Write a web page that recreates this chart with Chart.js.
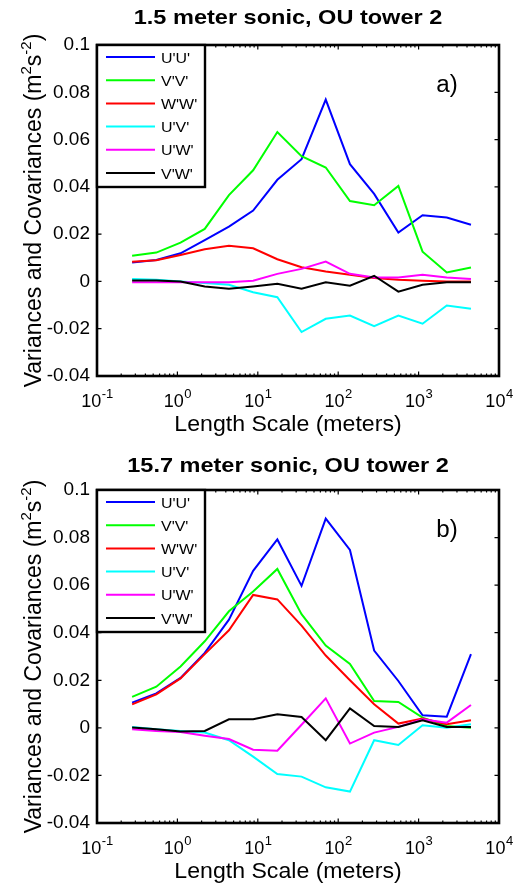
<!DOCTYPE html>
<html>
<head>
<meta charset="utf-8">
<script src="https://cdn.jsdelivr.net/npm/chart.js@4.4.1/dist/chart.umd.min.js"></script>
<style>
  html, body { margin: 0; padding: 0; background: #fff; }
  body { width: 514px; height: 884px; position: relative; overflow: hidden; }
  .panel { position: absolute; left: 0; width: 514px; height: 442px; }
  canvas { display: block; }
</style>
</head>
<body>
<div class="panel" style="top:0"><canvas id="c1" width="514" height="442"></canvas></div>
<div class="panel" style="top:442px"><canvas id="c2" width="514" height="442"></canvas></div>
<script>
// ---------- data ----------
const lengthScale = [0.2734, 0.5469, 1.094, 2.188, 4.375, 8.75, 17.5, 35, 70, 140, 280, 560, 1120, 2240, 4480];
const seriesLabels = ["U'U'", "V'V'", "W'W'", "U'V'", "U'W'", "V'W'"];
const seriesColors = ["#0000ff", "#00ff00", "#ff0000", "#00ffff", "#ff00ff", "#000000"];

// panel a) 1.5 m sonic
const a_UU = [0.0080, 0.0091, 0.0119, 0.0175, 0.0232, 0.0300, 0.0430, 0.0517, 0.0769, 0.0496, 0.0370, 0.0207, 0.0280, 0.0270, 0.0240];
const a_VV = [0.0109, 0.0122, 0.0164, 0.0222, 0.0365, 0.0470, 0.0632, 0.0530, 0.0482, 0.0340, 0.0322, 0.0404, 0.0126, 0.0038, 0.0059];
const a_WW = [0.0083, 0.0090, 0.0112, 0.0136, 0.0151, 0.0140, 0.0094, 0.0060, 0.0042, 0.0028, 0.0014, 0.0007, 0.0003, 0.0000, 0.0000];
const a_UV = [0.0010, 0.0007, 0.0000, -0.0007, -0.0014, -0.0046, -0.0067, -0.0214, -0.0158, -0.0144, -0.0189, -0.0144, -0.0179, -0.0102, -0.0116];
const a_UW = [-0.0003, -0.0003, -0.0003, -0.0003, -0.0003, 0.0003, 0.0032, 0.0053, 0.0084, 0.0032, 0.0017, 0.0017, 0.0028, 0.0017, 0.0010];
const a_VW = [0.0004, 0.0004, 0.0000, -0.0021, -0.0031, -0.0021, -0.0010, -0.0031, -0.0004, -0.0018, 0.0024, -0.0043, -0.0014, -0.0003, -0.0003];

// panel b) 15.7 m sonic
const b_UU = [0.0106, 0.0145, 0.0210, 0.0315, 0.0455, 0.0660, 0.0792, 0.0597, 0.0880, 0.0748, 0.0325, 0.0197, 0.0053, 0.0047, 0.0310];
const b_VV = [0.0130, 0.0173, 0.0258, 0.0364, 0.0490, 0.0573, 0.0668, 0.0478, 0.0346, 0.0269, 0.0113, 0.0109, 0.0043, 0.0008, 0.0000];
const b_WW = [0.0099, 0.0141, 0.0208, 0.0310, 0.0410, 0.0559, 0.0540, 0.0430, 0.0304, 0.0200, 0.0099, 0.0018, 0.0039, 0.0015, 0.0032];
const b_UV = [0.0004, -0.0006, -0.0013, -0.0020, -0.0052, -0.0121, -0.0194, -0.0205, -0.0250, -0.0268, -0.0052, -0.0072, 0.0011, 0.0000, 0.0015];
const b_UW = [-0.0006, -0.0013, -0.0017, -0.0033, -0.0047, -0.0092, -0.0096, 0.0013, 0.0124, -0.0066, -0.0020, 0.0004, 0.0036, 0.0022, 0.0096];
const b_VW = [0.0001, -0.0006, -0.0015, -0.0013, 0.0036, 0.0036, 0.0057, 0.0046, -0.0052, 0.0082, 0.0008, 0.0004, 0.0032, 0.0004, 0.0004];

// ticks and text
const xTickValues = [0.1, 1, 10, 100, 1000, 10000];
const xTickBase = "10";
const xTickExps = ["-1", "0", "1", "2", "3", "4"];
const yTickValues = [-0.04, -0.02, 0, 0.02, 0.04, 0.06, 0.08, 0.1];
const yTickLabels = ["-0.04", "-0.02", "0", "0.02", "0.04", "0.06", "0.08", "0.1"];
const xAxisTitle = "Length Scale (meters)";
const yAxisTitleParts = ["Variances and Covariances (m", "2", "s", "-2", ")"];
const panelTitles = ["1.5 meter sonic, OU tower 2", "15.7 meter sonic, OU tower 2"];
const panelLetters = ["a)", "b)"];
const titleOffsets = [21, 18];

// ---------- drawing helpers ----------
const FONT = "'Liberation Sans', Arial, Helvetica, sans-serif";

function sText(ctx, txt, x, y, size, sx, align, bold) {
  ctx.save();
  ctx.font = (bold ? "bold " : "") + size + "px " + FONT;
  const w = ctx.measureText(txt).width * sx;
  const x0 = align === "center" ? x - w / 2 : (align === "right" ? x - w : x);
  ctx.translate(x0, y);
  ctx.scale(sx, 1);
  ctx.textAlign = "left";
  ctx.fillStyle = "#000";
  ctx.fillText(txt, 0, 0);
  ctx.restore();
  return w;
}
function measure(ctx, txt, size, sx, bold) {
  ctx.save();
  ctx.font = (bold ? "bold " : "") + size + "px " + FONT;
  const w = ctx.measureText(txt).width * sx;
  ctx.restore();
  return w;
}

function makeDecor(idx) {
  return {
    id: "decor" + idx,
    afterDraw(chart) {
      const ctx = chart.ctx;
      const {left, right, top, bottom} = chart.chartArea;
      const xs = chart.scales.x, ys = chart.scales.y;
      ctx.save();
      ctx.strokeStyle = "#000";
      ctx.fillStyle = "#000";
      ctx.textBaseline = "alphabetic";

      // tick marks (inward)
      ctx.lineWidth = 1.2;
      ctx.beginPath();
      for (let d = -1; d <= 4; d++) {
        const px = xs.getPixelForValue(Math.pow(10, d));
        ctx.moveTo(px, bottom); ctx.lineTo(px, bottom - 4.5);
        ctx.moveTo(px, top); ctx.lineTo(px, top + 4.5);
        if (d < 4) {
          for (let m = 2; m <= 9; m++) {
            const pm = xs.getPixelForValue(m * Math.pow(10, d));
            ctx.moveTo(pm, bottom); ctx.lineTo(pm, bottom - 2.5);
            ctx.moveTo(pm, top); ctx.lineTo(pm, top + 2.5);
          }
        }
      }
      yTickValues.forEach(v => {
        const py = ys.getPixelForValue(v);
        ctx.moveTo(left, py); ctx.lineTo(left + 4.5, py);
        ctx.moveTo(right, py); ctx.lineTo(right - 4.5, py);
      });
      ctx.stroke();

      // axes box
      ctx.lineWidth = 2.6;
      ctx.strokeRect(left, top, right - left, bottom - top);

      // legend
      const lw = 108, lh = 142;
      ctx.fillStyle = "#fff";
      ctx.fillRect(left, top, lw, lh);
      ctx.lineWidth = 2.4;
      ctx.strokeRect(left, top, lw, lh);
      chart.data.datasets.forEach((ds, i) => {
        const ry = top + 12 + i * 23.2;
        ctx.strokeStyle = ds.borderColor;
        ctx.lineWidth = 2;
        ctx.beginPath();
        ctx.moveTo(left + 9, ry); ctx.lineTo(left + 58, ry);
        ctx.stroke();
        sText(ctx, ds.label, left + 64, ry + 5.5, 14.5, 1.1, "left", false);
      });

      // panel letter
      sText(ctx, panelLetters[idx], right - 52, top + 47, 23, 1.05, "center", false);

      // title
      sText(ctx, panelTitles[idx], 288, top - titleOffsets[idx], 21, 1.12, "center", true);

      // x tick labels with superscript
      const baseY = bottom + 31;
      xTickValues.forEach((v, i) => {
        const px = xs.getPixelForValue(v);
        const wb = measure(ctx, xTickBase, 18, 1.0, false);
        const we = measure(ctx, xTickExps[i], 13, 1.0, false);
        const x0 = px - (wb + we) / 2;
        sText(ctx, xTickBase, x0, baseY, 18, 1.0, "left", false);
        sText(ctx, xTickExps[i], x0 + wb + 0.5, baseY - 9, 13, 1.0, "left", false);
      });

      // x axis title
      sText(ctx, xAxisTitle, 288, bottom + 55, 22, 1.05, "center", false);

      // y axis title rotated, with superscripts
      const cy = (top + bottom) / 2;
      const big = 23, small = 15;
      const parts = yAxisTitleParts.map((t, i) => ({t, sup: (i === 1 || i === 3)}));
      const widths = parts.map(p => measure(ctx, p.t, p.sup ? small : big, 1.0, false));
      const total = widths.reduce((a, b) => a + b, 0);
      ctx.save();
      ctx.translate(41, cy);
      ctx.rotate(-Math.PI / 2);
      let cx = -total / 2;
      parts.forEach((p, i) => {
        sText(ctx, p.t, cx, p.sup ? -10 : 0, p.sup ? small : big, 1.0, "left", false);
        cx += widths[i];
      });
      ctx.restore();

      ctx.restore();
    }
  };
}

function buildChart(canvasId, idx, series, padTop, xHeight) {
  const datasets = series.map((vals, i) => ({
    label: seriesLabels[i],
    data: lengthScale.map((x, k) => ({x: x, y: vals[k]})),
    borderColor: seriesColors[i],
    backgroundColor: seriesColors[i],
    borderWidth: 2,
    pointRadius: 0,
    tension: 0,
    fill: false,
    order: series.length - i
  }));
  return new Chart(document.getElementById(canvasId), {
    type: "line",
    data: {datasets},
    options: {
      responsive: false,
      animation: false,
      devicePixelRatio: 1,
      layout: {padding: {top: padTop, right: 15, left: 0, bottom: 0}},
      plugins: {legend: {display: false}, tooltip: {enabled: false}, title: {display: false}},
      scales: {
        x: {
          type: "logarithmic",
          min: 0.1, max: 10000,
          grid: {display: false, drawTicks: false},
          border: {display: false},
          ticks: {display: false},
          afterFit: s => { s.height = xHeight; }
        },
        y: {
          type: "linear",
          min: -0.04, max: 0.1,
          grid: {display: false, drawTicks: false},
          border: {display: false},
          afterBuildTicks: s => { s.ticks = yTickValues.map(v => ({value: v})); },
          ticks: {
            color: "#000",
            padding: 7,
            font: {family: FONT, size: 19},
            callback: v => {
              const j = yTickValues.findIndex(t => Math.abs(t - v) < 1e-9);
              return j >= 0 ? yTickLabels[j] : "";
            }
          },
          afterFit: s => { s.width = 97; }
        }
      }
    },
    plugins: [makeDecor(idx)]
  });
}

buildChart("c1", 0, [a_UU, a_VV, a_WW, a_UV, a_UW, a_VW], 45, 66);
buildChart("c2", 1, [b_UU, b_VV, b_WW, b_UV, b_UW, b_VW], 48, 61);
</script>
</body>
</html>
